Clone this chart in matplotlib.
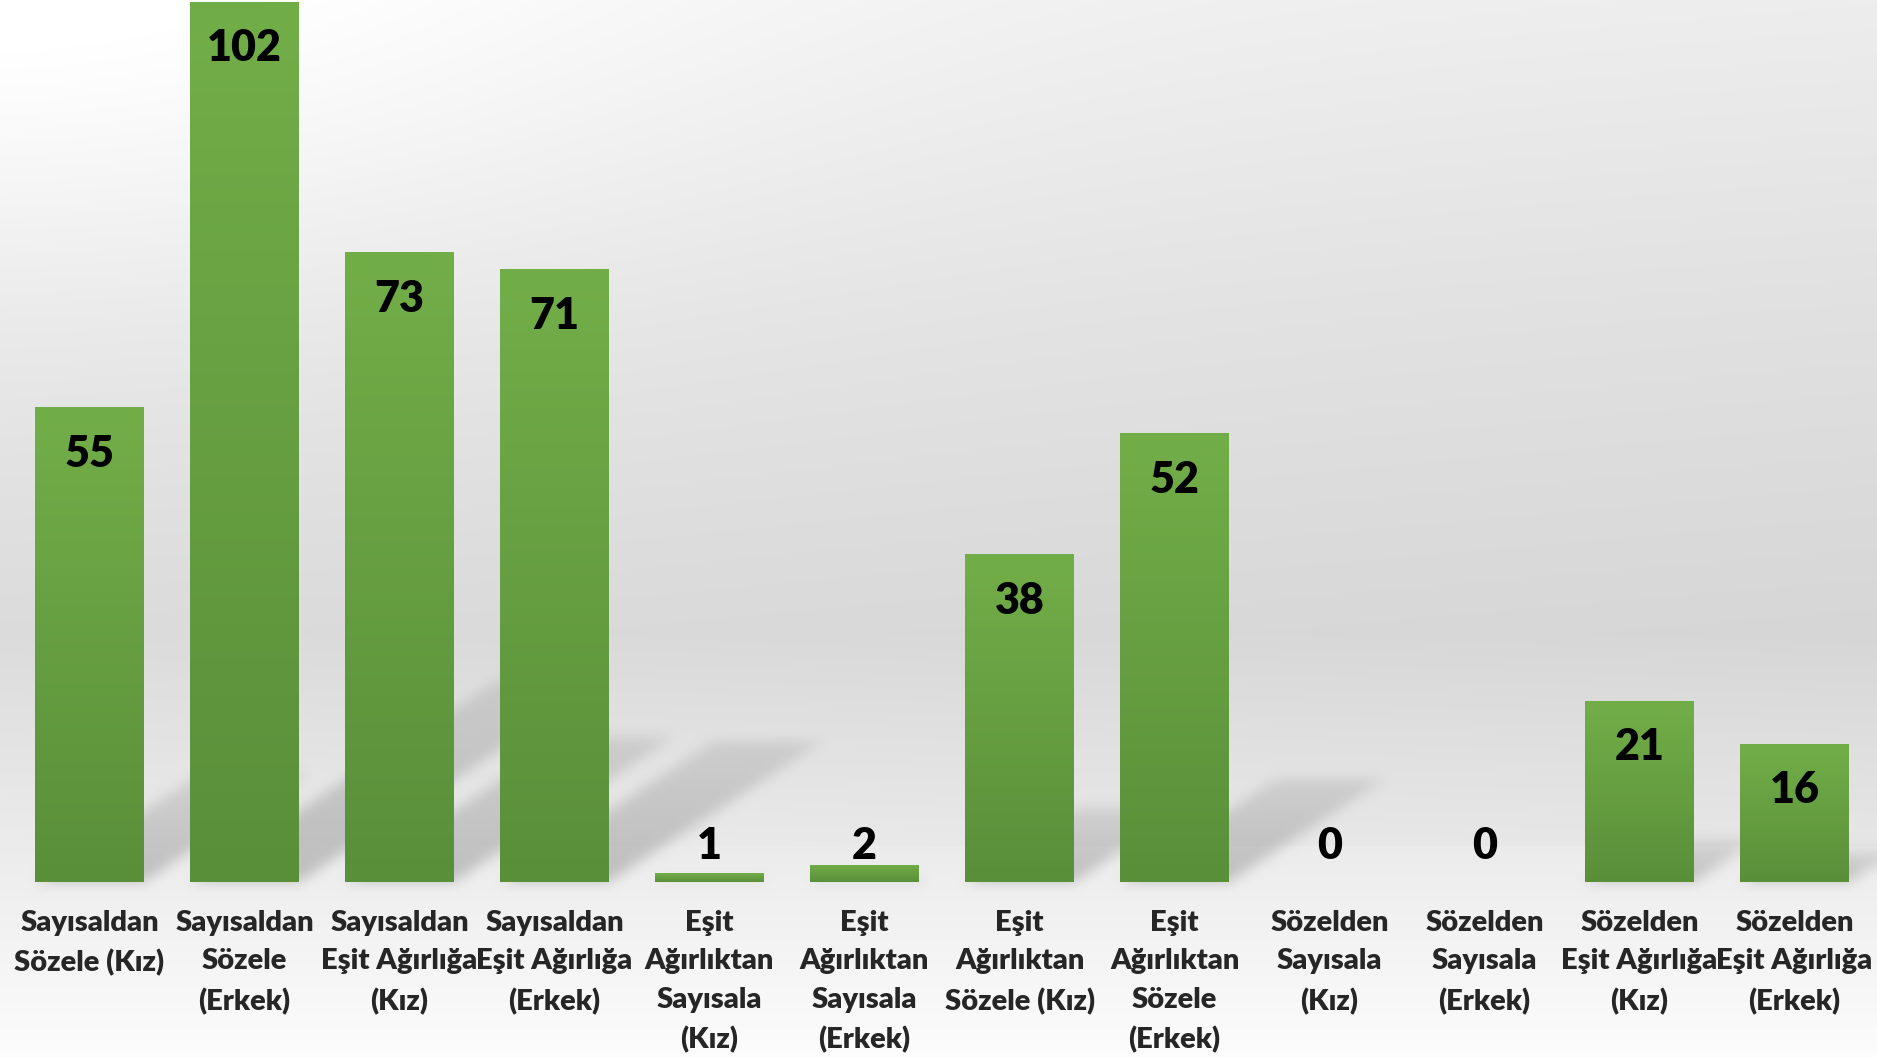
import numpy as np
import matplotlib.pyplot as plt

categories = [
    "Sayısaldan\nSözele (Kız)",
    "Sayısaldan\nSözele\n(Erkek)",
    "Sayısaldan\nEşit Ağırlığa\n(Kız)",
    "Sayısaldan\nEşit Ağırlığa\n(Erkek)",
    "Eşit\nAğırlıktan\nSayısala\n(Kız)",
    "Eşit\nAğırlıktan\nSayısala\n(Erkek)",
    "Eşit\nAğırlıktan\nSözele (Kız)",
    "Eşit\nAğırlıktan\nSözele\n(Erkek)",
    "Sözelden\nSayısala\n(Kız)",
    "Sözelden\nSayısala\n(Erkek)",
    "Sözelden\nEşit Ağırlığa\n(Kız)",
    "Sözelden\nEşit Ağırlığa\n(Erkek)",
]
values = [55, 102, 73, 71, 1, 2, 38, 52, 0, 0, 21, 16]

W, H = 1877, 1057
BAR_W = 0.70

plt.rcParams['font.family'] = ['Lato', 'DejaVu Sans']

fig = plt.figure(figsize=(W / 100, H / 100), dpi=100)
bg_ax = fig.add_axes([0, 0, 1, 1], zorder=-1)
bg_ax.axis('off')
ax = fig.add_axes([0.0064, 0.1656, 0.991, 0.8344])
ax.set_facecolor('none')

x = np.arange(len(values))
ax.set_xlim(-0.5, len(values) - 0.5)
ax.set_ylim(0, 102.2)

# background gradient (light at top-left and bottom, greyer in the middle)
ty = (np.arange(H)[:, None] + 0.5) / H
tx = (np.arange(W)[None, :] + 0.5) / W
bg = np.interp(ty, [0, 0.3, 0.6, 0.82, 1], [0.95, 0.9, 0.86, 0.93, 0.99])
bg = bg + 0.06 * np.exp(-((tx / 0.4) ** 2 + (ty / 0.3) ** 2)) - 0.02 * tx * (ty < 0.8)
bg = np.broadcast_to(bg, (H, W)).copy()

# perspective shadows behind the bars
py = H - 0.5 - np.arange(H)[:, None]
px = np.arange(W)[None, :] + 0.5
shadow = np.zeros((H, W))
for i, v in enumerate(values):
    if v <= 0:
        continue
    x0, yb = ax.transData.transform((i - BAR_W / 2, 0))
    x1, yt = ax.transData.transform((i + BAR_W / 2, v))
    rise = 0.23 * (yt - yb)
    d = py - yb
    inside = (d >= 0) & (d <= rise) & (px >= x0 + 1.52 * d) & (px <= x1 + 1.52 * d)
    fade = 1 - 0.55 * np.clip(d / max(rise, 1), 0, 1)
    shadow = np.maximum(shadow, inside * fade)


def blur(a, r):
    for axis in (0, 1):
        pad = [(0, 0), (0, 0)]
        pad[axis] = (r + 1, r)
        c = np.cumsum(np.pad(a, pad, mode='edge'), axis=axis)
        n = a.shape[axis]
        a = (np.take(c, np.arange(2 * r + 1, 2 * r + 1 + n), axis=axis)
             - np.take(c, np.arange(0, n), axis=axis)) / (2 * r + 1)
    return a


shadow = blur(blur(shadow, 7), 7)
bg = bg * (1 - 0.2 * shadow)
bg_ax.imshow(np.dstack([bg, bg, bg]).clip(0, 1), extent=[0, 1, 0, 1],
             aspect='auto', interpolation='nearest')
bg_ax.set_xlim(0, 1)
bg_ax.set_ylim(0, 1)

# gradient bars
top_c = np.array([0.447, 0.682, 0.282])
bot_c = np.array([0.353, 0.561, 0.227])
grad = np.linspace(0, 1, 64)[:, None, None]
grad = top_c * (1 - grad) + bot_c * grad
grad = np.repeat(grad, 2, axis=1)

bars = ax.bar(x, values, width=BAR_W, color='none', edgecolor='none')
for b, v in zip(bars, values):
    if v <= 0:
        continue
    im = ax.imshow(grad, extent=[b.get_x(), b.get_x() + b.get_width(), 0, v],
                   aspect='auto', interpolation='bilinear', zorder=2)
    im.set_clip_path(b)

for i, v in enumerate(values):
    ax.text(i, max(v - 5.4, 4.2), str(v), ha='center', va='center',
            fontsize=31, fontweight='heavy', color='black', zorder=3)

ax.set_xlim(-0.5, len(values) - 0.5)
ax.set_ylim(0, 102.2)
ax.set_xticks(x, categories, fontsize=21, fontweight='heavy', color='#262626',
              linespacing=1.6)
ax.tick_params(axis='x', length=0, pad=20)
ax.set_yticks([])
for s in ax.spines.values():
    s.set_visible(False)

fig.savefig('out.png', dpi=100)
